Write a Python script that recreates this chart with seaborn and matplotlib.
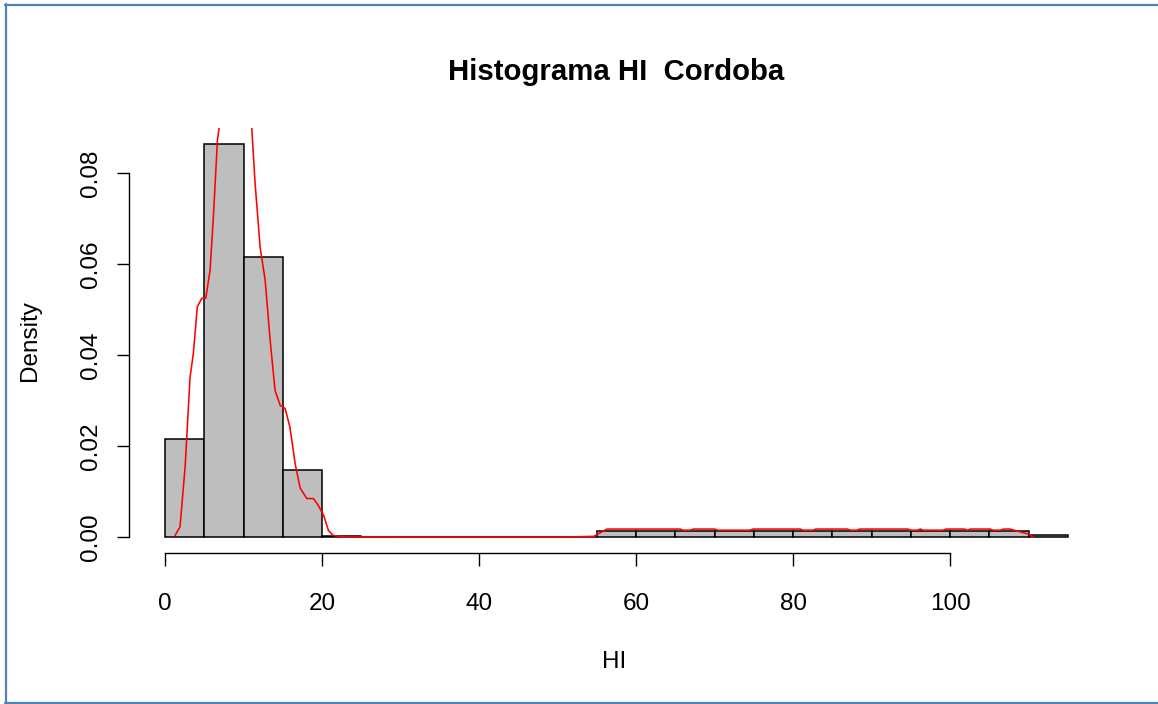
import numpy as np
import pandas as pd
import matplotlib
matplotlib.use("Agg")
import matplotlib.pyplot as plt
from matplotlib.lines import Line2D
import seaborn as sns

# ---- data ----
bin_edges = [0, 5, 10, 15, 20, 25, 30, 35, 40, 45, 50, 55, 60, 65, 70, 75, 80,
             85, 90, 95, 100, 105, 110, 115]
bin_density = [0.0215, 0.0864, 0.0615, 0.0147, 0.0003, 0.0, 0.0, 0.0, 0.0, 0.0,
               0.0, 0.0014, 0.0014, 0.0014, 0.0014, 0.0014, 0.0014, 0.0014,
               0.0014, 0.0014, 0.0014, 0.0014, 0.0006]

dens_x = [1.27, 1.9, 2.55, 3.18, 3.6, 4.1, 4.67, 5.18, 5.73, 6.15, 6.67, 6.88,
          7.5, 8.5, 9.3, 10.2, 11.04, 11.46, 12.1, 12.74, 13.38, 14.0, 14.65,
          15.29, 15.9, 16.56, 17.2, 18.05, 18.9, 19.5, 20.2, 20.8, 21.4, 22.5,
          30.0, 40.0, 50.0, 54.6, 56.3, 65.6, 66.0, 66.9, 67.3, 70.0, 70.4,
          74.5, 74.9, 80.9, 81.3, 82.5, 82.9, 86.9, 87.3, 88.1, 88.5, 94.6,
          95.0, 95.8, 96.2, 96.6, 99.1, 99.5, 101.8, 102.2, 102.6, 105.1, 105.5,
          106.4, 106.8, 107.6, 108.9, 109.8, 110.6]
dens_y = [0.0004, 0.0023, 0.0155, 0.0352, 0.0404, 0.0506, 0.0525, 0.0525,
          0.0587, 0.0704, 0.0873, 0.0899, 0.1000, 0.1100, 0.1120, 0.1050,
          0.0899, 0.0778, 0.0638, 0.0565, 0.0433, 0.0323, 0.0290, 0.0283,
          0.0242, 0.0162, 0.0108, 0.0085, 0.0085, 0.0070, 0.0048, 0.0015,
          0.0004, 0.0001, 0.0, 0.0, 0.0, 0.0002, 0.0018, 0.0018, 0.00155,
          0.00155, 0.0018, 0.0018, 0.00155, 0.00155, 0.0018, 0.0018, 0.00155,
          0.00155, 0.0018, 0.0018, 0.00155, 0.00155, 0.0018, 0.0018, 0.00155,
          0.00155, 0.0018, 0.00155, 0.00155, 0.0018, 0.0018, 0.00155, 0.0018,
          0.0018, 0.00155, 0.00155, 0.0018, 0.0018, 0.0012, 0.0008, 0.0001]

x_ticks = [0, 20, 40, 60, 80, 100]
y_ticks = [0.00, 0.02, 0.04, 0.06, 0.08]
y_tick_labels = ["0.00", "0.02", "0.04", "0.06", "0.08"]

title = "Histograma HI  Cordoba"
x_label = "HI"
y_label = "Density"

# ---- style ----
sns.set_style("white")
plt.rcParams["font.family"] = ["Liberation Sans", "DejaVu Sans"]

W, H = 1158, 704
fig = plt.figure(figsize=(W / 100, H / 100), dpi=100)
ax = fig.add_axes([129 / W, 1 - 553 / H, (1104 - 129) / W, (553 - 128) / H])

mids = [(a + b) / 2 for a, b in zip(bin_edges[:-1], bin_edges[1:])]
hist_df = pd.DataFrame({"mid": mids, "dens": bin_density})
sns.histplot(data=hist_df, x="mid", weights="dens", bins=bin_edges,
             stat="count", color="#BEBEBE", edgecolor="black", linewidth=1.1,
             alpha=1.0, ax=ax)

line_df = pd.DataFrame({"x": dens_x, "y": dens_y})
sns.lineplot(data=line_df, x="x", y="y", color="red", linewidth=1.15,
             sort=False, estimator=None, ax=ax)

ax.set_xlim(-4.6, 119.6)
ax.set_ylim(-0.00346, 0.0899)

for s in ["top", "right"]:
    ax.spines[s].set_visible(False)
for s in ["left", "bottom"]:
    ax.spines[s].set_visible(True)
    ax.spines[s].set_color("black")
    ax.spines[s].set_linewidth(1.0)
ax.spines["bottom"].set_bounds(0, 100)
ax.spines["left"].set_bounds(0, 0.08)

ax.set_xticks(x_ticks)
ax.set_xticklabels([str(t) for t in x_ticks])
ax.set_yticks(y_ticks)
ax.set_yticklabels(y_tick_labels, rotation=90, va="center")
ax.tick_params(axis="both", direction="out", length=9, width=1.0,
               color="black", labelsize=17.5, labelcolor="black")
ax.tick_params(axis="x", pad=19.5, bottom=True)
ax.tick_params(axis="y", pad=10.5, left=True)

ax.set_xlabel(x_label, fontsize=17.5, color="black")
ax.xaxis.set_label_coords((614 - 129) / 975, (553 - 662) / 425)
ax.xaxis.label.set_va("center")
ax.set_ylabel(y_label, fontsize=17.5, color="black")
ax.yaxis.set_label_coords((30 - 129) / 975, 0.5)
ax.yaxis.label.set_va("center")
ax.set_title(title, fontsize=21.2, fontweight="bold", color="black",
             y=(553 - 72) / 425, va="center", pad=0)

# outer frame (blue)
frame_c = "#4F81BD"
fig.add_artist(Line2D([6 / W, 6 / W], [1 - 4 / H, 0], transform=fig.transFigure,
                      color=frame_c, linewidth=1.6))
fig.add_artist(Line2D([5 / W, 1], [1 - 5 / H, 1 - 5 / H], transform=fig.transFigure,
                      color=frame_c, linewidth=1.6))
fig.add_artist(Line2D([5 / W, 1], [1 - 703 / H, 1 - 703 / H], transform=fig.transFigure,
                      color=frame_c, linewidth=1.6))

fig.savefig("out.png", dpi=100)
